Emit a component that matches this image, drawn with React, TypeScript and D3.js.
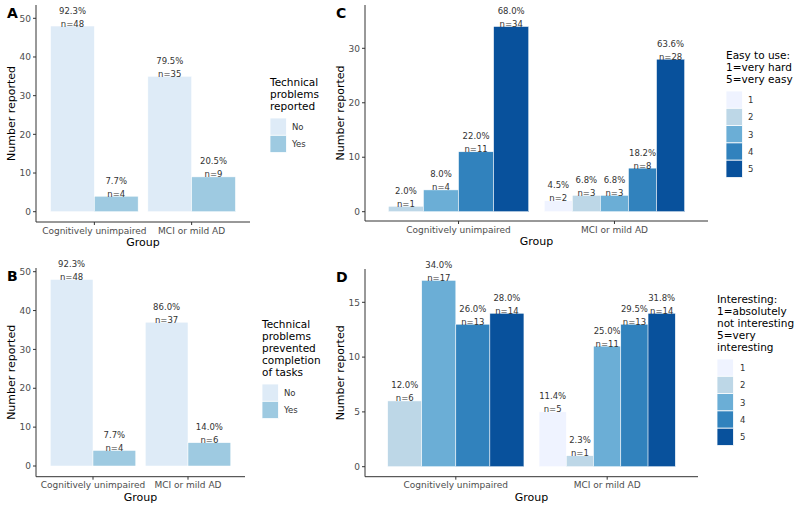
import React from "react";
import { scaleBand, scaleLinear } from "d3";

const groups = ["Cognitively unimpaired", "MCI or mild AD"];
const yesNoLevels = ["No", "Yes"];
const scoreLevels = ["1", "2", "3", "4", "5"];

const yesNoColors = ["#deebf7", "#9ecae1"];
const scoreColors = ["#eff3ff", "#bdd7e7", "#6baed6", "#3182bd", "#08519c"];

// A: technical problems reported
const problemsCounts = [[48, 4], [35, 9]];
const problemsPct = [["92.3%", "7.7%"], ["79.5%", "20.5%"]];

// B: problems prevented completion
const preventedCounts = [[48, 4], [37, 6]];
const preventedPct = [["92.3%", "7.7%"], ["86.0%", "14.0%"]];

// C: easy to use (null = level not present)
const easyCounts = [[null, 1, 4, 11, 34], [2, 3, 3, 8, 28]];
const easyPct = [[null, "2.0%", "8.0%", "22.0%", "68.0%"], ["4.5%", "6.8%", "6.8%", "18.2%", "63.6%"]];

// D: interesting
const interestCounts = [[null, 6, 17, 13, 14], [5, 1, 11, 13, 14]];
const interestPct = [[null, "12.0%", "34.0%", "26.0%", "28.0%"], ["11.4%", "2.3%", "25.0%", "29.5%", "31.8%"]];

const yTicksAB = [0, 10, 20, 30, 40, 50];
const yTicksC = [0, 10, 20, 30];
const yTicksD = [0, 5, 10, 15];

const FONT = "DejaVu Sans, sans-serif";

function Panel({ letter, left, right, top, bottom, yDomain, yRange, ticks, counts, pcts, levels, colors, legendTitle, legendX, legendY, keyLabelDx }) {
  const x = scaleBand().domain(groups).range([left, right]).paddingInner(0.1).paddingOuter(0.15);
  const y = scaleLinear().domain(yDomain).range(yRange);
  const midY = (top + bottom) / 2;

  return (
    <g fontFamily={FONT}>
      <text x={left - 29} y={top + 13} fontSize={14} fontWeight="bold">{letter}</text>
      {/* bars */}
      {groups.map((g, gi) => {
        const present = levels.filter((_, li) => counts[gi][li] != null);
        const inner = scaleBand().domain(present).range([x(g), x(g) + x.bandwidth()]);
        return present.map((lv) => {
          const li = levels.indexOf(lv);
          const v = counts[gi][li];
          const bx = inner(lv);
          const cx = bx + inner.bandwidth() / 2;
          return (
            <g key={g + lv}>
              <rect x={bx} y={y(v)} width={inner.bandwidth()} height={y(0) - y(v)} fill={colors[li]} stroke="white" strokeWidth={0.5} />
              <text x={cx} y={y(v) - 12.5} textAnchor="middle" fontSize={8.5} fill="#333">{pcts[gi][li]}</text>
              <text x={cx} y={y(v) + 0.5} textAnchor="middle" fontSize={8.5} fill="#333">{"n=" + v}</text>
            </g>
          );
        });
      })}
      {/* axes */}
      <line x1={left} x2={left} y1={top} y2={bottom} stroke="#333" strokeWidth={1} />
      <line x1={left} x2={right} y1={bottom} y2={bottom} stroke="#333" strokeWidth={1} />
      {ticks.map((t) => (
        <g key={t}>
          <line x1={left - 3} x2={left} y1={y(t)} y2={y(t)} stroke="#333" />
          <text x={left - 5} y={y(t) + 3.2} textAnchor="end" fontSize={9} fill="#4d4d4d">{t}</text>
        </g>
      ))}
      {groups.map((g) => {
        const c = x(g) + x.bandwidth() / 2;
        return (
          <g key={g}>
            <line x1={c} x2={c} y1={bottom} y2={bottom + 3} stroke="#333" />
            <text x={c} y={bottom + 11.5} textAnchor="middle" fontSize={9} fill="#4d4d4d">{g}</text>
          </g>
        );
      })}
      <text x={(left + right) / 2} y={bottom + 24} textAnchor="middle" fontSize={11}>Group</text>
      <text transform={`translate(${left - 21},${midY}) rotate(-90)`} textAnchor="middle" fontSize={11}>Number reported</text>
      {/* legend */}
      {legendTitle.map((line, i) => (
        <text key={line} x={legendX} y={legendY + i * 12} fontSize={10.5}>{line}</text>
      ))}
      {levels.map((lv, i) => {
        const ky = legendY + (legendTitle.length - 1) * 12 + 8 + i * 17.3;
        return (
          <g key={lv}>
            <rect x={legendX} y={ky} width={16.5} height={17.3} fill={colors[i]} stroke="white" strokeWidth={0.8} />
            <text x={legendX + keyLabelDx} y={ky + 12} fontSize={8.5} fill="#333">{lv}</text>
          </g>
        );
      })}
    </g>
  );
}

export default function App() {
  return (
    <svg width={800} height={509} style={{ position: "absolute", left: 0, top: 0, background: "white" }}>
      <Panel letter="A" left={36} right={250} top={5} bottom={222} yDomain={[0, 50]} yRange={[211.7, 18.3]} ticks={yTicksAB}
        counts={problemsCounts} pcts={problemsPct} levels={yesNoLevels} colors={yesNoColors}
        legendTitle={["Technical", "problems", "reported"]} legendX={270} legendY={86} keyLabelDx={22} />
      <Panel letter="B" left={36} right={245} top={268} bottom={476.7} yDomain={[0, 50]} yRange={[466, 271.7]} ticks={yTicksAB}
        counts={preventedCounts} pcts={preventedPct} levels={yesNoLevels} colors={yesNoColors}
        legendTitle={["Technical", "problems", "prevented", "completion", "of tasks"]} legendX={262} legendY={328} keyLabelDx={22} />
      <Panel letter="C" left={365} right={708} top={5} bottom={221} yDomain={[0, 30]} yRange={[211.7, 48.3]} ticks={yTicksC}
        counts={easyCounts} pcts={easyPct} levels={scoreLevels} colors={scoreColors}
        legendTitle={["Easy to use:", "1=very hard", "5=very easy"]} legendX={726} legendY={59} keyLabelDx={22} />
      <Panel letter="D" left={365} right={698} top={269} bottom={476.7} yDomain={[0, 15]} yRange={[466.7, 302.3]} ticks={yTicksD}
        counts={interestCounts} pcts={interestPct} levels={scoreLevels} colors={scoreColors}
        legendTitle={["Interesting:", "1=absolutely", "not interesting", "5=very", "interesting"]} legendX={717} legendY={303} keyLabelDx={23} />
    </svg>
  );
}
